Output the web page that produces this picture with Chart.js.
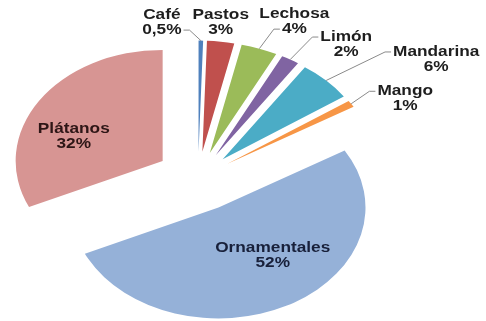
<!DOCTYPE html>
<html>
<head>
<meta charset="utf-8">
<script src="https://cdn.jsdelivr.net/npm/chart.js@4.4.1/dist/chart.umd.min.js"></script>
<style>
  html, body { margin: 0; padding: 0; background: #fff; }
  #wrap { width: 486px; height: 321px; position: relative; }
</style>
</head>
<body>
<div id="wrap"><canvas id="pie"></canvas></div>
<script>
// ─── Data ─────────────────────────────────────────────
const CATEGORIES = ['Café', 'Pastos', 'Lechosa', 'Limón', 'Mandarina', 'Mango', 'Ornamentales', 'Plátanos']
const SHARES     = [0.5, 3, 4, 2, 6, 1, 52, 32]

// ─── Style ────────────────────────────────────────────
const COLORS      = ['#4f81bd', '#c0504d', '#9bbb59', '#8064a2', '#4bacc6', '#f79646', '#95b1d8', '#d79593']
const TEXT_COLORS = ['#1e1e1e', '#1e1e1e', '#1e1e1e', '#1e1e1e', '#1e1e1e', '#1e1e1e', '#18203a', '#2e1616']
const EXPLODE     = [35, 35, 35, 35, 35, 35, 44, 42]   // radial push, before tilt
const INSIDE      = [false, false, false, false, false, false, true, true]
const LABEL_SHIFT = [[-39, -18], [0, -19], [35, -27], [56, -15], [110, -21], [54, -5], [20, -1], [-27, 5]]
const LEADER_LINE = [2, 0, 2, 1, 1, 1, 0, 0]   // which text line the leader starts from (0 = none)
const TILT         = 0.755
const RADIUS       = 147
const LINE_GAP     = 15
const TEXT_STRETCH = 1.15
const FONT         = 'bold 15px "Liberation Sans", Arial, sans-serif'

const pct = v => String(v).replace('.', ',') + '%'

// ─── Tilt + explode plugin ────────────────────────────
function centre(chart) {
  const a = chart.chartArea
  return { cx: (a.left + a.right) / 2, cy: (a.top + a.bottom) / 2 }
}

function drawLabels(chart) {
  const { ctx } = chart
  const { cy } = centre(chart)
  ctx.save()
  ctx.font = FONT
  ctx.textAlign = 'center'
  ctx.textBaseline = 'middle'
  chart.getDatasetMeta(0).data.forEach((arc, i) => {
    const mid = (arc.startAngle + arc.endAngle) / 2
    const r   = INSIDE[i] ? arc.outerRadius * 0.5 : arc.outerRadius
    const ax  = arc.x + Math.cos(mid) * r
    const ay  = cy + (arc.y + Math.sin(mid) * r - cy) * TILT
    const lx  = ax + LABEL_SHIFT[i][0]
    const ly  = ay + LABEL_SHIFT[i][1]
    const lines = [CATEGORIES[i], pct(SHARES[i])]
    const ys = [ly - LINE_GAP / 2, ly + LINE_GAP / 2]

    if (LEADER_LINE[i]) {
      const k    = LEADER_LINE[i] - 1
      const w    = ctx.measureText(lines[k]).width * TEXT_STRETCH
      const side = lx > ax ? -1 : 1
      const sx   = lx + side * (w / 2 + 2)
      ctx.beginPath()
      ctx.moveTo(sx, ys[k])
      ctx.lineTo(sx + side * 6, ys[k])
      ctx.lineTo(ax, ay)
      ctx.strokeStyle = '#8a8a8a'
      ctx.lineWidth = 1
      ctx.stroke()
    }

    ctx.fillStyle = TEXT_COLORS[i]
    lines.forEach((t, j) => {
      ctx.save()
      ctx.translate(lx, ys[j])
      ctx.scale(TEXT_STRETCH, 1)
      ctx.fillText(t, 0, 0)
      ctx.restore()
    })
  })
  ctx.restore()
}

const tiltPlugin = {
  id: 'tilt',
  beforeDatasetsDraw(chart) {
    const { ctx } = chart
    const { cx, cy } = centre(chart)
    chart.getDatasetMeta(0).data.forEach((arc, i) => {
      const mid = (arc.startAngle + arc.endAngle) / 2
      arc.x = cx + Math.cos(mid) * EXPLODE[i]
      arc.y = cy + Math.sin(mid) * EXPLODE[i]
    })
    ctx.save()
    ctx.translate(0, cy)
    ctx.scale(1, TILT)
    ctx.translate(0, -cy)
  },
  afterDatasetsDraw(chart) {
    chart.ctx.restore()
    drawLabels(chart)
  }
}

// ─── Chart ────────────────────────────────────────────
new Chart(document.getElementById('pie'), {
  type: 'pie',
  data: {
    labels: CATEGORIES,
    datasets: [{
      data: SHARES,
      backgroundColor: COLORS,
      borderWidth: 0,
      clip: false
    }]
  },
  options: {
    responsive: true,
    maintainAspectRatio: false,
    animation: false,
    radius: RADIUS,
    layout: { padding: { left: 0, right: 90, top: 35, bottom: 0 } },
    plugins: {
      legend: { display: false },
      tooltip: { enabled: false }
    }
  },
  plugins: [tiltPlugin]
})
</script>
</body>
</html>
